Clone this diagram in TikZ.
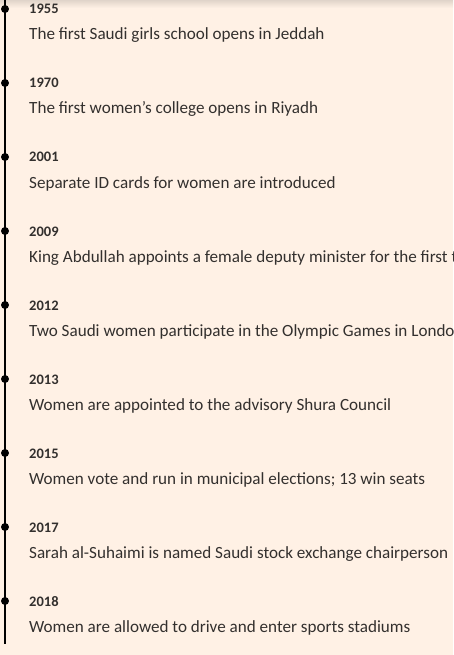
\documentclass[tikz,border=0pt]{standalone}
\usepackage{fontspec}
\setmainfont{Carlito}
\definecolor{ftbg}{HTML}{FFF1E5}
\definecolor{fttext}{HTML}{33302E}
\begin{document}
\begin{tikzpicture}[x=1pt,y=1pt,
  year/.style={anchor=base west,inner sep=0pt,font=\fontsize{14.5}{16}\selectfont\bfseries,text=fttext},
  desc/.style={anchor=base west,inner sep=0pt,font=\fontsize{17.1}{19}\selectfont,text=fttext},
  dot/.style={circle,fill=black,inner sep=0pt,minimum size=8pt}]
\useasboundingbox (0,0) rectangle (453,-655);
\clip (0,0) rectangle (453,-655);
\fill[ftbg] (0,0) rectangle (453,-655);
\shade[top color=black!12!ftbg,bottom color=ftbg] (0,0) rectangle (453,-8);
\coordinate (top) at (5,0);
\coordinate (bot) at (5,-644);
\draw[line width=2pt] (top) -- (bot);
\foreach \i/\yr/\txt in {
 0/1955/{The first Saudi girls school opens in Jeddah},
 1/1970/{The first women’s college opens in Riyadh},
 2/2001/{Separate ID cards for women are introduced},
 3/2009/{King Abdullah appoints a female deputy minister for the first time},
 4/2012/{Two Saudi women participate in the Olympic Games in London},
 5/2013/{Women are appointed to the advisory Shura Council},
 6/2015/{Women vote and run in municipal elections; 13 win seats},
 7/2017/{Sarah al-Suhaimi is named Saudi stock exchange chairperson},
 8/2018/{Women are allowed to drive and enter sports stadiums}}{
  \node[dot] (d\i) at (5,{-9-74*\i}) {};
  \node[year] (y\i) at (29,{-14-74*\i}) {\yr};
  \node[desc] (t\i) at (29,{-40-74*\i}) {\txt};
}
\end{tikzpicture}
\end{document}
